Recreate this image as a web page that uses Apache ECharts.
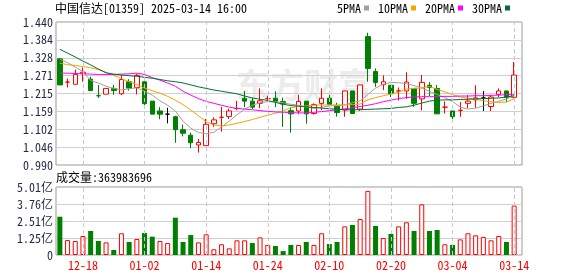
<!DOCTYPE html>
<html><head><meta charset="utf-8">
<script src="https://cdn.jsdelivr.net/npm/echarts@6/dist/echarts.min.js"></script>
<style>html,body{margin:0;padding:0;background:#fff}#c{width:578px;height:276px}</style>
</head><body><div id="c"></div>
<script>
const dates = ['12-13','12-16','12-17','12-18','12-19','12-20','12-23','12-24','12-27','12-30','12-31','01-02','01-03','01-06','01-07','01-08','01-09','01-10','01-13','01-14','01-15','01-16','01-17','01-20','01-21','01-22','01-23','01-24','01-27','01-28','02-03','02-04','02-05','02-06','02-07','02-10','02-11','02-12','02-13','02-14','02-17','02-18','02-19','02-20','02-21','02-24','02-25','02-26','02-27','02-28','03-03','03-04','03-05','03-06','03-07','03-10','03-11','03-12','03-13','03-14'];
const labelDates = ['12-18','01-02','01-14','01-24','02-10','02-20','03-04','03-14'];
const opens = [1.324,1.251,1.244,1.278,1.260,1.208,1.213,1.231,1.214,1.252,1.234,1.252,1.191,1.160,1.150,1.142,1.101,1.084,1.053,1.051,1.120,1.140,1.143,1.168,1.200,1.191,1.184,1.199,1.200,1.190,1.161,1.160,1.191,1.152,1.184,1.200,1.175,1.163,1.223,1.166,1.394,1.284,1.243,1.241,1.223,1.223,1.231,1.198,1.241,1.231,1.172,1.160,1.162,1.184,1.195,1.201,1.174,1.212,1.223,1.203];
const closes = [1.242,1.251,1.275,1.282,1.224,1.208,1.231,1.224,1.259,1.232,1.272,1.183,1.150,1.150,1.150,1.101,1.090,1.060,1.061,1.118,1.132,1.140,1.160,1.168,1.191,1.172,1.192,1.199,1.190,1.182,1.151,1.190,1.151,1.180,1.200,1.180,1.155,1.223,1.152,1.242,1.294,1.250,1.252,1.214,1.223,1.251,1.184,1.250,1.234,1.151,1.172,1.142,1.162,1.191,1.201,1.201,1.204,1.223,1.203,1.273];
const lows = [1.242,1.234,1.244,1.252,1.224,1.201,1.213,1.211,1.210,1.224,1.212,1.171,1.150,1.134,1.121,1.060,1.080,1.043,1.029,1.051,1.110,1.095,1.135,1.162,1.172,1.166,1.169,1.191,1.172,1.110,1.092,1.150,1.120,1.149,1.163,1.168,1.142,1.142,1.152,1.160,1.252,1.236,1.226,1.204,1.193,1.198,1.173,1.162,1.207,1.151,1.152,1.132,1.142,1.169,1.170,1.160,1.160,1.204,1.188,1.203];
const highs = [1.327,1.262,1.290,1.297,1.268,1.242,1.231,1.242,1.273,1.260,1.277,1.252,1.191,1.172,1.170,1.145,1.117,1.092,1.072,1.135,1.140,1.173,1.167,1.192,1.223,1.201,1.231,1.208,1.222,1.202,1.172,1.211,1.191,1.184,1.231,1.210,1.186,1.223,1.223,1.242,1.406,1.294,1.272,1.241,1.234,1.282,1.231,1.273,1.251,1.242,1.190,1.160,1.188,1.210,1.241,1.223,1.211,1.231,1.223,1.314];
const ma5 = [1.323,1.312,1.298,1.284,1.256,1.248,1.238,1.231,1.226,1.230,1.233,1.222,1.210,1.192,1.178,1.160,1.128,1.106,1.092,1.089,1.093,1.110,1.128,1.148,1.166,1.178,1.186,1.189,1.189,1.186,1.181,1.178,1.172,1.168,1.172,1.176,1.177,1.179,1.186,1.192,1.212,1.232,1.244,1.250,1.249,1.246,1.240,1.232,1.222,1.212,1.202,1.190,1.172,1.166,1.169,1.176,1.184,1.190,1.198,1.208];
const ma10 = [1.310,1.306,1.303,1.300,1.296,1.290,1.282,1.272,1.262,1.252,1.243,1.232,1.224,1.216,1.206,1.194,1.180,1.163,1.145,1.126,1.116,1.113,1.116,1.121,1.127,1.133,1.140,1.147,1.153,1.161,1.170,1.174,1.176,1.178,1.179,1.179,1.179,1.179,1.180,1.182,1.195,1.202,1.208,1.213,1.219,1.229,1.231,1.233,1.237,1.228,1.220,1.212,1.204,1.200,1.197,1.192,1.189,1.187,1.188,1.199];
const ma20 = [1.279,1.279,1.278,1.277,1.276,1.275,1.275,1.275,1.276,1.277,1.279,1.275,1.265,1.257,1.248,1.238,1.222,1.210,1.199,1.190,1.184,1.178,1.172,1.168,1.166,1.164,1.161,1.159,1.157,1.156,1.155,1.154,1.154,1.156,1.158,1.161,1.164,1.167,1.170,1.174,1.178,1.183,1.189,1.194,1.199,1.202,1.204,1.205,1.205,1.205,1.206,1.206,1.207,1.207,1.208,1.208,1.209,1.210,1.211,1.213];
const ma30 = [1.354,1.342,1.330,1.317,1.305,1.292,1.280,1.276,1.273,1.271,1.269,1.266,1.263,1.259,1.255,1.252,1.248,1.242,1.236,1.231,1.226,1.222,1.218,1.214,1.207,1.201,1.197,1.193,1.187,1.181,1.177,1.175,1.173,1.171,1.169,1.167,1.165,1.164,1.164,1.164,1.165,1.166,1.167,1.168,1.171,1.173,1.178,1.185,1.191,1.194,1.195,1.195,1.196,1.197,1.198,1.199,1.200,1.201,1.204,1.208];
const volumes = [2.82e8,1.10e8,1.03e8,1.40e8,1.77e8,1.03e8,0.93e8,0.37e8,1.60e8,0.96e8,1.18e8,1.62e8,1.35e8,1.03e8,0.88e8,2.75e8,0.96e8,1.47e8,0.93e8,1.52e8,0.42e8,0.79e8,0.49e8,1.08e8,1.08e8,0.88e8,1.30e8,0.74e8,0.66e8,0.29e8,0.74e8,0.74e8,0.96e8,0.74e8,1.60e8,0.81e8,0.96e8,2.11e8,2.21e8,2.65e8,4.72e8,2.14e8,1.25e8,1.55e8,2.11e8,2.41e8,1.77e8,3.73e8,1.77e8,1.84e8,0.79e8,0.74e8,1.15e8,1.60e8,1.45e8,1.33e8,1.08e8,1.40e8,0.96e8,363983696];
const priceTickLabels = ['0.990','1.046','1.102','1.159','1.215','1.271','1.328','1.384','1.440'];
const volTickLabels = ['0','1.25亿','2.51亿','3.76亿','5.01亿'];

const RED = '#ff0000', GREEN = '#008000', BLACK = '#000000';
const FONT = "'Noto Sans Mono CJK SC','Noto Sans CJK SC','Liberation Mono',monospace";

const candleData = dates.map((d, i) => {
  const o = opens[i], c = closes[i];
  let fill, border;
  if (c > o) { fill = '#ffffff'; border = RED; }
  else if (c < o) { fill = GREEN; border = GREEN; }
  else {
    const pc = i > 0 ? closes[i - 1] : c;
    border = c > pc ? RED : (c < pc ? GREEN : BLACK);
    fill = border;
  }
  return { value: [o, c, lows[i], highs[i]],
    itemStyle: { color: fill, color0: fill, borderColor: border, borderColor0: border, borderColorDoji: border, borderWidth: 1 } };
});
const volData = volumes.map((v, i) => {
  const up = i > 0 && closes[i] >= closes[i - 1];
  return { value: v, itemStyle: up ? { color: '#ffffff', borderColor: RED, borderWidth: 1 } : { color: GREEN, borderColor: GREEN, borderWidth: 0 } };
});
const vLines = { silent: true, symbol: ['none', 'none'], label: { show: false },
  lineStyle: { type: [4, 3], color: '#c8c8c8', width: 1 }, emphasis: { disabled: true },
  data: labelDates.map(d => ({ xAxis: d })) };

const maSeries = [['5PMA', ma5, '#a0a0a0'], ['10PMA', ma10, '#f5a300'], ['20PMA', ma20, '#ff00ff'], ['30PMA', ma30, '#006f35']].map(([n, arr, col]) => ({
  name: n, type: 'line', xAxisIndex: 1, yAxisIndex: 1, data: arr, symbol: 'none', smooth: false,
  lineStyle: { color: col, width: 1 }, itemStyle: { color: col }, z: 4, silent: true
}));

const chart = echarts.init(document.getElementById('c'), null, { renderer: 'canvas' });
chart.setOption({
  animation: false,
  backgroundColor: '#ffffff',
  title: [
    { text: '中国信达[01359] 2025-03-14 16:00', left: 55, top: 2, padding: 0, textStyle: { fontSize: 12, fontWeight: 'normal', color: '#000', fontFamily: FONT } },
    { text: '成交量:363983696', left: 56, top: 171, padding: 0, textStyle: { fontSize: 12, fontWeight: 'normal', color: '#000', fontFamily: FONT } }
  ],
  legend: { data: ['5PMA', '10PMA', '20PMA', '30PMA'], left: 337, top: 2, padding: 0, itemWidth: 5, itemHeight: 5, itemGap: 9, align: 'right', icon: 'rect',
    textStyle: { fontSize: 12, color: '#000', fontFamily: FONT, padding: [0, -2, 0, 0] }, selectedMode: false },
  graphic: [{ type: 'text', left: 236, top: 68, z: 0, silent: true, style: { text: '东方财富', fontSize: 34, fontWeight: 'bold', fill: '#ececec', fontFamily: "'Noto Sans CJK SC'" } }],
  grid: [
    { left: 56, top: 22, width: 466, height: 143, show: true, borderColor: '#999', borderWidth: 1, containLabel: false },
    { left: 56, top: 22, width: 462, height: 143, containLabel: false },
    { left: 56, top: 187, width: 466, height: 68, show: true, borderColor: '#999', borderWidth: 1, containLabel: false },
    { left: 56, top: 187, width: 462, height: 68, containLabel: false }
  ],
  xAxis: [
    { gridIndex: 0, type: 'category', data: dates, show: false },
    { gridIndex: 1, type: 'category', data: dates, axisLine: { show: false }, axisTick: { show: false }, axisLabel: { show: false }, splitLine: { show: false } },
    { gridIndex: 2, type: 'category', data: dates, show: false },
    { gridIndex: 3, type: 'category', data: dates, axisLine: { show: false }, axisTick: { show: false }, splitLine: { show: false },
      axisLabel: { show: true, interval: (idx, val) => labelDates.indexOf(val) >= 0, color: RED, fontSize: 12, fontFamily: FONT, margin: 4, hideOverlap: false } }
  ],
  yAxis: [
    { gridIndex: 0, type: 'value', min: 0.99, max: 1.44, interval: 0.05625, axisLine: { show: false }, axisTick: { show: false },
      axisLabel: { formatter: (v, i) => priceTickLabels[i], color: '#1e2846', fontSize: 12, fontFamily: FONT, margin: 3 },
      splitLine: { lineStyle: { color: '#d0d0d0', width: 1 } } },
    { gridIndex: 1, type: 'value', min: 0.99, max: 1.44, show: false, splitLine: { show: false } },
    { gridIndex: 2, type: 'value', min: 0, max: 5.01e8, interval: 1.2525e8, axisLine: { show: false }, axisTick: { show: false },
      axisLabel: { formatter: (v, i) => volTickLabels[i], color: '#1e2846', fontSize: 12, fontFamily: FONT, margin: 3 },
      splitLine: { lineStyle: { color: '#d0d0d0', width: 1 } } },
    { gridIndex: 3, type: 'value', min: 0, max: 5.01e8, show: false, splitLine: { show: false } }
  ],
  series: [
    { name: 'grid1lines', type: 'line', xAxisIndex: 1, yAxisIndex: 1, data: dates.map(() => null), z: 1, silent: true, markLine: vLines },
    { name: 'grid3lines', type: 'line', xAxisIndex: 3, yAxisIndex: 3, data: dates.map(() => null), z: 1, silent: true, markLine: vLines },
    { name: 'K', type: 'candlestick', xAxisIndex: 1, yAxisIndex: 1, data: candleData, barWidth: 5, z: 3, silent: true },
    ...maSeries,
    { name: '成交量', type: 'bar', xAxisIndex: 3, yAxisIndex: 3, data: volData, barWidth: 5, z: 3, silent: true }
  ]
});
</script>
</body></html>
